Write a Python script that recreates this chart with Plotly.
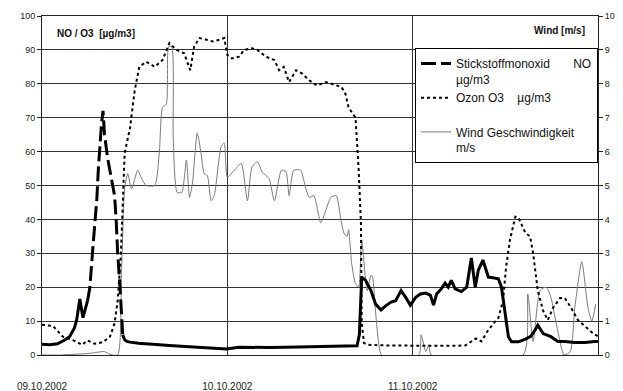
import pandas as pd
import plotly.graph_objects as go

# ---------------- data (hours after 09.10.2002 00:00) ----------------
no_hours = [0, 1, 2, 3, 3.6, 4.2, 4.5, 4.9, 5.3, 5.9,
            6.2, 6.6, 7.1, 7.3, 7.5, 7.7, 7.9, 8.1, 8.5, 9.0,
            9.4, 9.6, 9.8, 10.1, 10.3, 10.45, 10.7, 11.0, 11.4, 12.5,
            13.9, 15.0, 16.5, 18.0, 20.4, 22.0, 23.9, 25.5, 27.5, 29.4,
            31.5, 33.3, 35.0, 37.2, 39.0, 40.8, 41.1, 41.3, 41.4, 41.9,
            42.6, 43.2, 43.9, 44.5, 45.2, 45.8, 46.5, 47.1, 47.7, 48.4,
            49.0, 49.7, 50.3, 50.7, 51.1, 51.7, 52.2, 52.6, 53.0, 53.5,
            54.3, 55.0, 55.6, 56.1, 56.5, 57.1, 57.8, 58.4, 59.1, 59.5,
            60.0, 60.4, 60.8, 61.7, 62.6, 63.3, 63.9, 64.2, 64.9, 65.9,
            66.8, 67.7, 69.0, 70.3, 71.6, 72.0]
no_values = [3.2, 3.0, 3.3, 4.5, 5.5, 8, 10.5, 16.5, 11, 16,
             20, 32, 46, 55, 62, 68, 72, 65, 58, 52,
             47, 40, 30, 20, 12, 6, 4.5, 4.0, 3.8, 3.5,
             3.2, 3.0, 2.8, 2.6, 2.3, 2.2, 1.8, 2.3, 2.2, 2.2,
             2.3, 2.4, 2.5, 2.6, 2.6, 2.7, 6, 15, 23, 22,
             19, 15, 13.3, 14.5, 15.6, 16, 19, 17, 14.7, 17,
             18, 18.3, 17.6, 14.7, 18, 19.5, 21.2, 20, 22, 19.5,
             18.7, 20, 28.6, 20, 25, 28, 23, 22.8, 22.5, 20,
             11.3, 5.4, 3.9, 3.9, 4.7, 5.5, 7.5, 8.8, 6.3, 5.4,
             4.0, 4.0, 3.7, 3.7, 4.0, 4.0]

o3_hours = [0.0, 1.4, 2.7, 4.0, 5.2, 5.9, 6.8, 7.9, 8.8, 9.4,
            9.8, 10.2, 10.45, 10.7, 11.4, 12.0, 12.6, 13.5, 14.6, 15.6,
            16.5, 17.4, 18.4, 19.2, 19.7, 20.4, 21.3, 22.1, 23.0, 23.6,
            24.0, 24.6, 25.5, 26.2, 27.2, 27.9, 29.0, 30.1, 30.7, 31.3,
            32.0, 32.9, 33.7, 34.6, 35.6, 36.8, 37.5, 38.8, 39.3, 39.7,
            40.6, 41.0, 41.3, 41.4, 41.7, 42.3, 44.9, 48.8, 52.6, 54.8,
            55.6, 56.2, 56.9, 57.8, 59.1, 59.7, 60.1, 60.6, 61.3, 61.7,
            62.6, 63.2, 63.6, 64.2, 64.9, 65.5, 66.2, 67.1, 67.7, 68.5,
            69.4, 70.4, 71.3, 72.0]
o3_values = [8.9, 8.6, 5.4, 4.4, 3.0, 4.3, 3.3, 3.8, 5.4, 9.4,
             16, 29, 44, 59.5, 67, 78, 85, 86.5, 85, 87,
             92, 90, 89, 84, 91, 93.5, 93, 92.5, 93, 93.5,
             88.5, 87.5, 88, 90, 90.5, 90, 88, 87, 84, 85,
             80.5, 84, 83, 81, 79.5, 80.5, 80, 79, 77, 73,
             70, 55, 39, 9.4, 3.5, 3.0, 2.8, 2.7, 2.7, 2.8,
             3.9, 4.9, 4.0, 7.4, 11, 16, 26, 34, 40.8, 40.5,
             36, 35, 30, 19, 13, 10.3, 14, 16.8, 16.8, 14,
             10.3, 8.3, 6.5, 5.5]

wind_hours = [0.0, 2.3, 6.2, 8.1, 8.8, 9.8, 10.3, 10.7, 11.1, 11.6,
              12.4, 12.9, 13.5, 14.6, 15.2, 15.6, 16.1, 16.4, 16.8, 17.0,
              17.5, 18.1, 18.7, 19.1, 19.5, 20.1, 20.6, 21.0, 21.4, 21.9,
              22.3, 23.2, 23.6, 24.0, 24.9, 25.8, 26.6, 27.2, 27.9, 28.5,
              29.4, 30.1, 31.0, 31.6, 32.0, 32.6, 33.5, 33.9, 34.6, 35.2,
              36.1, 36.8, 37.4, 38.1, 38.7, 39.1, 39.5, 39.7, 40.1, 40.6,
              41.0, 41.4, 42.1, 42.6, 42.8, 43.2, 43.6, 44.0, 48.8, 49.1,
              49.7, 50.1, 50.4, 62.3, 62.9, 63.6, 64.5, 65.3, 65.9, 66.8,
              67.6, 68.4, 69.0, 69.9, 70.7, 71.2, 71.7]
wind_values = [0.0, 0.0, 0.05, 0.1, 0.02, 0.0, 2.5, 4.9, 5.35, 4.9,
               5.45, 5.2, 5.0, 5.0, 6.0, 7.3, 7.4, 9.1, 9.1, 6.4,
               4.8, 4.8, 5.75, 4.65, 5.1, 6.55, 5.95, 5.35, 5.3, 4.55,
               4.7, 6.15, 6.25, 5.25, 5.45, 5.65, 4.55, 5.55, 5.7, 5.4,
               5.2, 4.55, 5.45, 5.4, 4.7, 5.45, 5.45, 5.15, 4.65, 4.7,
               3.9, 4.3, 4.65, 4.7, 4.0, 3.6, 3.5, 3.7, 2.7, 2.1,
               2.0, 3.4, 1.9, 2.35, 2.3, 1.25, 0.35, 0.0, 0.0, 0.6,
               0.1, 0.3, 0.0, 0.0, 1.8, 0.4, 1.9, 2.0, 1.7, 0.7,
               0.0, 0.1, 1.4, 2.75, 1.4, 1.0, 1.5]

date_ticks = ["2002-10-09", "2002-10-10", "2002-10-11"]
date_labels = ["09.10.2002", "10.10.2002", "11.10.2002"]
left_ticks = list(range(0, 101, 10))
right_ticks = list(range(0, 11))

# ---------------- build ----------------
base = pd.Timestamp("2002-10-09 00:00")
to_time = lambda hs: [base + pd.Timedelta(hours=h) for h in hs]

no_t = to_time(no_hours)
o3_t = to_time(o3_hours)
wind_t = to_time(wind_hours)

DASH_START, DASH_END = 5.9, 10.45
no_dash_x = [t for t, h in zip(no_t, no_hours) if DASH_START <= h <= DASH_END]
no_dash_y = [v for v, h in zip(no_values, no_hours) if DASH_START <= h <= DASH_END]
no_solid_y = [v if (h <= DASH_START or h >= DASH_END) else None
              for v, h in zip(no_values, no_hours)]

FONT = "Arial, Liberation Sans, sans-serif"
NB = "\u00a0"

fig = go.Figure()
# wind on primary (right-side) axis so it is drawn underneath
fig.add_trace(go.Scatter(
    x=wind_t, y=wind_values, mode="lines", yaxis="y",
    line=dict(color="#7a7a7a", width=1, shape="spline", smoothing=0.6),
    name="Wind Geschwindigkeit<br>m/s", legendrank=3))
fig.add_trace(go.Scatter(
    x=no_t, y=no_solid_y, mode="lines", yaxis="y2", connectgaps=False,
    line=dict(color="black", width=3), showlegend=False, hoverinfo="skip"))
fig.add_trace(go.Scatter(
    x=no_dash_x, y=no_dash_y, mode="lines", yaxis="y2",
    line=dict(color="black", width=3, dash="15px,5px"),
    name="Stickstoffmonoxid" + NB * 7 + "NO<br>µg/m3", legendrank=1))
fig.add_trace(go.Scatter(
    x=o3_t, y=o3_values, mode="lines", yaxis="y2",
    line=dict(color="black", width=2, dash="dot"),
    name="Ozon O3" + NB * 4 + "µg/m3<br>" + NB, legendrank=2))

fig.update_layout(
    width=623, height=391,
    margin=dict(l=42, r=25, t=16, b=36),
    paper_bgcolor="white", plot_bgcolor="white",
    font=dict(family=FONT, color="#222"),
    showlegend=True,
    legend=dict(x=1, xanchor="right", y=0.905, yanchor="top",
                bgcolor="white", bordercolor="black", borderwidth=1,
                font=dict(size=12, color="#111"), valign="top",
                traceorder="normal", tracegroupgap=0, itemwidth=30),
    xaxis=dict(type="date", automargin=False,
               range=[base, base + pd.Timedelta(hours=72)],
               tickvals=date_ticks, ticktext=date_labels,
               tickfont=dict(size=10, color="#222"),
               ticklabelstandoff=22, ticks="",
               showgrid=True, gridcolor="#333", gridwidth=1,
               showline=True, linecolor="#222", linewidth=1, mirror=True,
               zeroline=False),
    yaxis=dict(side="right", range=[0, 10], tickvals=right_ticks,
               automargin=False,
               tickfont=dict(size=9, color="#222"),
               ticks="outside", ticklen=4, tickcolor="#222",
               showgrid=True, gridcolor="#333", gridwidth=1,
               showline=True, linecolor="#222", linewidth=1, mirror=True,
               zeroline=False),
    yaxis2=dict(side="left", overlaying="y", range=[0, 100],
                tickvals=left_ticks, automargin=False,
                tickfont=dict(size=9, color="#222"),
                ticks="outside", ticklen=4, tickcolor="#222",
                showgrid=False, showline=True, linecolor="#222",
                linewidth=1, zeroline=False),
    annotations=[
        dict(text="<b>NO / O3  [µg/m3]</b>", xref="paper", yref="paper",
             x=0.023, y=0.947, xanchor="left", yanchor="middle",
             showarrow=False, font=dict(size=10, color="#111")),
        dict(text="<b>Wind [m/s]</b>", xref="paper", yref="paper",
             x=0.98, y=0.956, xanchor="right", yanchor="middle",
             showarrow=False, font=dict(size=10, color="#111")),
    ],
)

fig.write_html("out.html")
